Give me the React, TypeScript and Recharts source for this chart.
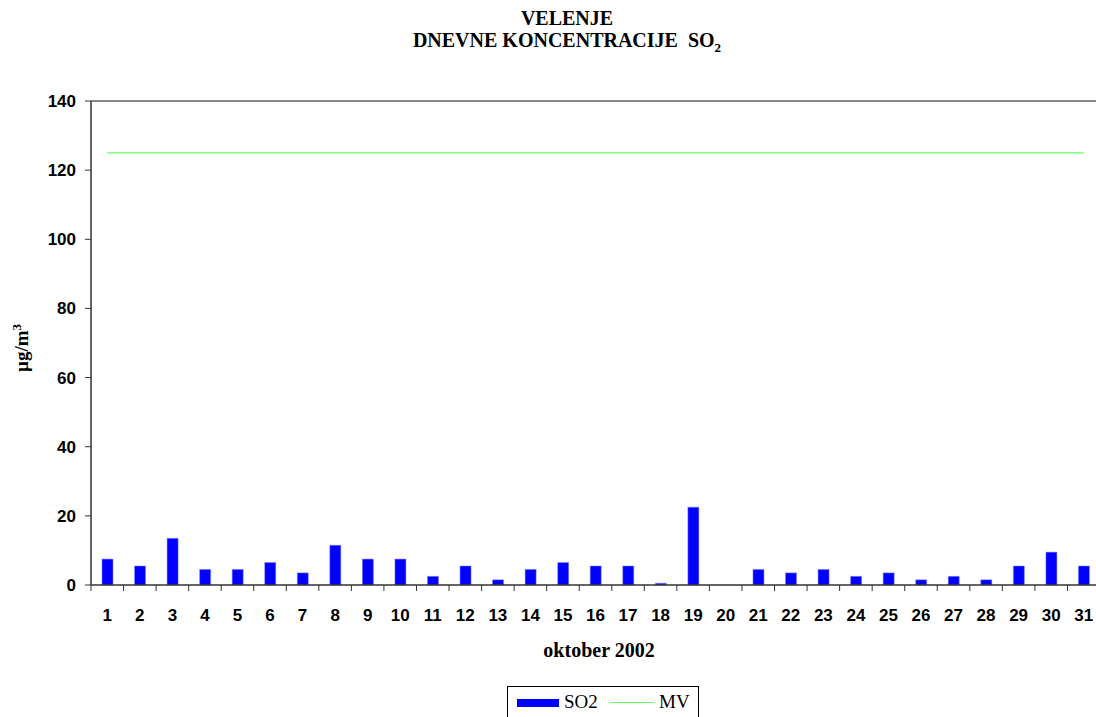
import { ComposedChart, Bar, Line, XAxis, YAxis } from "recharts";

const days = Array.from({ length: 31 }, (_, i) => i + 1);
const so2 = [
  7.5, 5.5, 13.5, 4.5, 4.5, 6.5, 3.5, 11.5, 7.5, 7.5, 2.5, 5.5, 1.5, 4.5, 6.5, 5.5,
  5.5, 0.5, 22.5, 0, 4.5, 3.5, 4.5, 2.5, 3.5, 1.5, 2.5, 1.5, 5.5, 9.5, 5.5,
];
const mvLimit = 125;
const yTicks = [0, 20, 40, 60, 80, 100, 120, 140];

const data = days.map((d, i) => ({ day: d, SO2: so2[i], MV: mvLimit }));

const serif = "'Liberation Serif', 'Times New Roman', serif";
const sans = "'Liberation Sans', Arial, sans-serif";
const tickStyle = { fontSize: 17, fontWeight: 700, fill: "#000", fontFamily: sans };

// half of one day's slot in px (plot is 1009px wide for 31 days)
const HALF_SLOT = 1009 / 31 / 2;
const TICK_OFFSET = 24;

function DayTick({ x, y, payload, index }: any) {
  const axisY = y - TICK_OFFSET;
  return (
    <g>
      <line x1={x - HALF_SLOT} x2={x - HALF_SLOT} y1={axisY} y2={axisY + 6} stroke="#333" />
      {index === days.length - 1 && (
        <line x1={x + HALF_SLOT} x2={x + HALF_SLOT} y1={axisY} y2={axisY + 6} stroke="#333" />
      )}
      <text x={x} y={y} dy="0.71em" textAnchor="middle" {...tickStyle}>
        {payload.value}
      </text>
    </g>
  );
}

function YLabel() {
  const cx = 28;
  const cy = 348;
  return (
    <text
      x={cx}
      y={cy}
      transform={`rotate(-90 ${cx} ${cy})`}
      textAnchor="middle"
      fontFamily={serif}
      fontWeight={700}
      fontSize={19}
      fill="#000"
    >
      µg/m<tspan dy={-7} fontSize={13}>3</tspan>
    </text>
  );
}

function XLabel() {
  return (
    <text x={599} y={657} textAnchor="middle" fontFamily={serif} fontWeight={700} fontSize={20} fill="#000">
      oktober 2002
    </text>
  );
}

function LegendBox() {
  return (
    <div
      style={{
        position: "absolute",
        left: 507,
        top: 686,
        width: 190,
        height: 40,
        border: "1px solid #000",
        fontFamily: serif,
        fontSize: 19,
        color: "#000",
        background: "#fff",
      }}
    >
      <span style={{ position: "absolute", left: 9, top: 12, width: 42, height: 8, background: "#0000ff" }} />
      <span style={{ position: "absolute", left: 56, top: 4, lineHeight: "22px" }}>SO2</span>
      <span style={{ position: "absolute", left: 102, top: 15, width: 44, height: 1, background: "#66ff66" }} />
      <span style={{ position: "absolute", left: 151, top: 4, lineHeight: "22px" }}>MV</span>
    </div>
  );
}

export default function App() {
  return (
    <div
      style={{
        position: "absolute",
        left: 0,
        top: 0,
        width: 1096,
        height: 717,
        background: "#fff",
        overflow: "hidden",
      }}
    >
      <div
        style={{
          position: "absolute",
          left: 367,
          width: 400,
          top: 7,
          textAlign: "center",
          fontFamily: serif,
          fontWeight: 700,
          fontSize: 20,
          lineHeight: "22px",
          color: "#000",
        }}
      >
        <div>VELENJE</div>
        <div>
          DNEVNE KONCENTRACIJE&nbsp; SO<sub style={{ fontSize: 13, lineHeight: 0 }}>2</sub>
        </div>
      </div>
      <ComposedChart
        width={1096}
        height={717}
        data={data}
        margin={{ top: 101, right: -4, bottom: 102, left: 0 }}
      >
        <XAxis
          dataKey="day"
          type="number"
          domain={[0.5, 31.5]}
          ticks={days}
          interval={0}
          tickLine={false}
          axisLine={{ stroke: "#333", strokeWidth: 1.5 }}
          tick={<DayTick />}
          tickSize={8}
          tickMargin={16}
          height={30}
        />
        <YAxis
          domain={[0, 140]}
          ticks={yTicks}
          width={91}
          tick={tickStyle}
          tickSize={6}
          tickMargin={9}
          axisLine={{ stroke: "#333", strokeWidth: 1.5 }}
          tickLine={{ stroke: "#333" }}
        />
        <Bar dataKey="SO2" fill="#0000ff" stroke="#7f7fff" strokeWidth={0.5} barSize={11} isAnimationActive={false} />
        <Line
          dataKey="MV"
          stroke="#66ff66"
          strokeWidth={1.2}
          dot={false}
          activeDot={false}
          isAnimationActive={false}
        />
        <line x1={91} x2={1096} y1={101} y2={101} stroke="#888" strokeWidth={2} />
        <YLabel />
        <XLabel />
      </ComposedChart>
      <LegendBox />
    </div>
  );
}
